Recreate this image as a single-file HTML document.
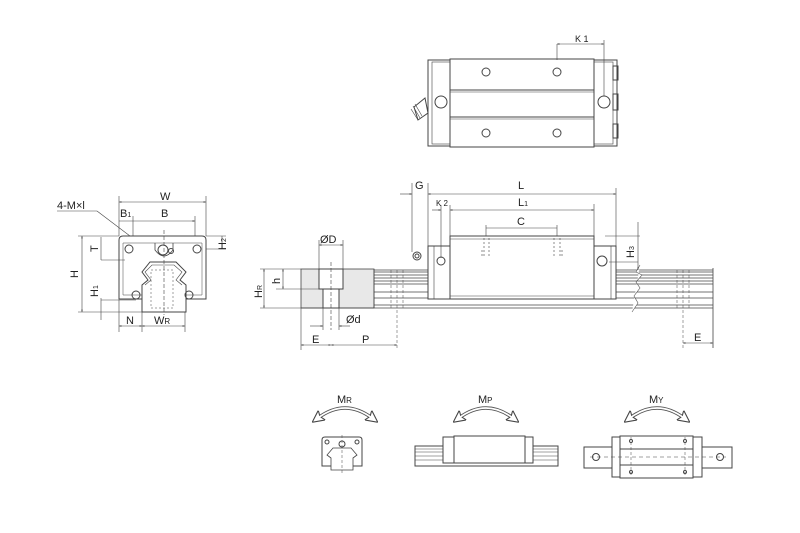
<!DOCTYPE html>
<html><head><meta charset="utf-8"><style>
html,body{margin:0;padding:0;background:#fff;}
svg{display:block;}
text{font-family:"Liberation Sans",sans-serif;fill:#222;}
</style></head><body>
<svg width="800" height="533" viewBox="0 0 800 533" xmlns="http://www.w3.org/2000/svg">
<defs>
<marker id="a" viewBox="0 0 10 10" refX="10" refY="5" markerWidth="6" markerHeight="4" orient="auto-start-reverse"><path d="M0,2 L10,5 L0,8 z" fill="#333"/></marker>
<marker id="ab" viewBox="0 0 10 10" refX="4" refY="5" markerUnits="userSpaceOnUse" markerWidth="12" markerHeight="12" orient="auto-start-reverse"><path d="M0,0 L10,5 L0,10 L2,5 z" fill="#fff" stroke="#444" stroke-width="0.9"/></marker>
</defs>
<g stroke="#444" stroke-width="1" fill="none">
<!-- TOP VIEW -->
<rect x="428" y="60" width="189" height="86"/>
<rect x="432" y="62" width="181" height="82" stroke-width="0.6"/>
<rect x="450" y="59" width="144" height="88" fill="#fff"/>
<line x1="450" y1="90" x2="594" y2="90"/><line x1="450" y1="92" x2="594" y2="92" stroke-width="0.5"/>
<line x1="450" y1="117" x2="594" y2="117"/><line x1="450" y1="119" x2="594" y2="119" stroke-width="0.5"/>
<circle cx="486" cy="72" r="4"/><circle cx="557" cy="72" r="4"/>
<circle cx="486" cy="133" r="4"/><circle cx="557" cy="133" r="4"/>
<circle cx="441" cy="102" r="6"/><circle cx="604" cy="102" r="6"/>
<rect x="613" y="66" width="5" height="14"/><rect x="613" y="94" width="5" height="16"/><rect x="613" y="124" width="5" height="14"/>
<path d="M425,98 L414,107 L418,120 L428,113 Z" fill="#fff"/>
<path d="M413,106 L420,118 M411,109 L418,120 M415,104 L422,116" stroke-width="0.6"/>
<line x1="557" y1="44" x2="557" y2="60" stroke-width="0.6"/>
<line x1="604" y1="40" x2="604" y2="96" stroke-width="0.6"/>
<line x1="557" y1="44" x2="604" y2="44" stroke-width="0.6" marker-start="url(#a)" marker-end="url(#a)"/>

<!-- SIDE VIEW rail -->
<rect x="301" y="269" width="73" height="39" fill="#e8e8e8" stroke-width="0.8"/>
<rect x="319" y="269" width="24" height="20" fill="#fff"/>
<rect x="323" y="289" width="16" height="19" fill="#fff"/>
<line x1="331" y1="262" x2="331" y2="330" stroke-dasharray="4,2" stroke-width="0.6"/>
<g stroke-width="0.8">
<line x1="374" y1="270" x2="713" y2="270"/><line x1="374" y1="272" x2="713" y2="272"/>
<line x1="374" y1="275" x2="713" y2="275"/><line x1="374" y1="278" x2="713" y2="278"/>
<line x1="374" y1="281" x2="713" y2="281"/><line x1="374" y1="284" x2="713" y2="284"/>
<line x1="374" y1="292" x2="713" y2="292"/><line x1="374" y1="298" x2="713" y2="298"/>
<line x1="301" y1="308" x2="713" y2="308"/><line x1="374" y1="305" x2="713" y2="305"/>
<line x1="713" y1="268" x2="713" y2="348"/>
<line x1="374" y1="269" x2="374" y2="308"/>
</g>
<path d="M640,265 L636,272 L642,275 L636,282 L640,288 L634,296 L638,303 L632,312" stroke-width="0.6" stroke="#555" fill="#fff"/>
<g stroke-dasharray="3,2" stroke-width="0.5">
<line x1="391" y1="270" x2="391" y2="310"/><line x1="397" y1="270" x2="397" y2="350"/><line x1="403" y1="270" x2="403" y2="310"/>
<line x1="677" y1="270" x2="677" y2="310"/><line x1="683" y1="270" x2="683" y2="348"/><line x1="689" y1="270" x2="689" y2="310"/>
</g>
<!-- block -->
<rect x="428" y="246" width="188" height="53" fill="#fff"/>
<line x1="434" y1="246" x2="434" y2="299" stroke-width="0.6"/><line x1="611" y1="246" x2="611" y2="299" stroke-width="0.6"/>
<rect x="450" y="236" width="144" height="63" fill="#fff"/>
<line x1="450" y1="239" x2="594" y2="239" stroke-width="0.5"/>
<line x1="450" y1="296" x2="594" y2="296" stroke-width="0.5"/>
<circle cx="441" cy="261" r="4"/><circle cx="602" cy="261" r="5"/>
<g stroke-dasharray="2,2" stroke-width="0.6"><path d="M484,238 V258 M489,238 V258 M554,238 V258 M560,238 V258 M482,250 V258 M562,250 V258"/></g>
<circle cx="417" cy="256" r="4"/><circle cx="417" cy="256" r="2"/>
<!-- dims side -->
<g stroke-width="0.6">
<line x1="412" y1="183" x2="412" y2="252"/><line x1="428" y1="183" x2="428" y2="246"/>
<line x1="400" y1="194" x2="412" y2="194" marker-end="url(#a)"/><line x1="428" y1="194" x2="616" y2="194" marker-start="url(#a)" marker-end="url(#a)"/>
<line x1="616" y1="188" x2="616" y2="246"/>
<line x1="441" y1="205" x2="441" y2="258"/><line x1="450" y1="205" x2="450" y2="236"/>
<line x1="432" y1="210" x2="441" y2="210" marker-end="url(#a)"/>
<line x1="450" y1="210" x2="594" y2="210" marker-start="url(#a)" marker-end="url(#a)"/>
<line x1="594" y1="204" x2="594" y2="236"/>
<line x1="486" y1="225" x2="486" y2="236"/><line x1="557" y1="225" x2="557" y2="236"/>
<line x1="486" y1="228" x2="557" y2="228"/>
<line x1="638" y1="222" x2="638" y2="270" marker-end="url(#a)"/>
<line x1="605" y1="236" x2="640" y2="236"/><line x1="609" y1="262" x2="638" y2="262"/>
<line x1="683" y1="343" x2="713" y2="343" marker-start="url(#a)" marker-end="url(#a)"/>
<line x1="319" y1="240" x2="319" y2="269"/><line x1="343" y1="240" x2="343" y2="269"/>
<line x1="319" y1="245" x2="343" y2="245" marker-start="url(#a)" marker-end="url(#a)"/>
<line x1="323" y1="308" x2="323" y2="330"/><line x1="339" y1="308" x2="339" y2="330"/>
<line x1="310" y1="326" x2="323" y2="326" marker-end="url(#a)"/><line x1="350" y1="326" x2="339" y2="326" marker-end="url(#a)"/>
<line x1="301" y1="308" x2="301" y2="350"/>
<line x1="301" y1="345" x2="331" y2="345" marker-start="url(#a)" marker-end="url(#a)"/>
<line x1="331" y1="345" x2="397" y2="345" marker-start="url(#a)" marker-end="url(#a)"/>
<line x1="260" y1="269" x2="301" y2="269"/><line x1="260" y1="308" x2="301" y2="308"/>
<line x1="264" y1="269" x2="264" y2="308" marker-start="url(#a)" marker-end="url(#a)"/>
<line x1="276" y1="289" x2="319" y2="289"/>
<line x1="283" y1="269" x2="283" y2="289" marker-start="url(#a)" marker-end="url(#a)"/>
</g>

<!-- FRONT VIEW -->
<path d="M119,240 Q119,236 123,236 L202,236 Q206,236 206,240 L206,299 L119,299 Z" fill="#fff"/>
<path d="M123,243 L202,243 L202,295 L123,295 Z" stroke-width="0.5"/>
<path d="M142,312 L142,285 L148,280 L142,272 L150,262 L176,262 L186,272 L180,280 L186,285 L186,312 Z" fill="#fff"/>
<path d="M145,285 L151,280 L145,272 L152,265 L174,265 L182,272 L176,280 L182,285" stroke-width="0.6"/>
<g stroke-dasharray="2,2" stroke-width="0.5"><rect x="151" y="270" width="22" height="38"/></g>
<line x1="164" y1="230" x2="164" y2="315" stroke-dasharray="4,2" stroke-width="0.6"/>
<circle cx="129" cy="249" r="4"/><circle cx="197" cy="249" r="4"/>
<circle cx="136" cy="295" r="4"/><circle cx="189" cy="295" r="4"/>
<path d="M155,243 L155,250 Q164,262 173,250 L173,243" stroke-width="0.8"/>
<circle cx="163" cy="250" r="5"/><circle cx="171" cy="251" r="2.5"/>
<g stroke-width="0.6">
<line x1="119" y1="196" x2="119" y2="236"/><line x1="206" y1="196" x2="206" y2="236"/>
<line x1="119" y1="202" x2="206" y2="202" marker-start="url(#a)" marker-end="url(#a)"/>
<line x1="133" y1="216" x2="133" y2="236"/><line x1="195" y1="216" x2="195" y2="236"/>
<line x1="119" y1="221" x2="195" y2="221" marker-end="url(#a)"/>
<line x1="57" y1="211" x2="97" y2="211"/><line x1="97" y1="211" x2="130" y2="236"/>
<line x1="78" y1="236" x2="119" y2="236"/><line x1="78" y1="312" x2="142" y2="312"/>
<line x1="82" y1="236" x2="82" y2="312" marker-start="url(#a)" marker-end="url(#a)"/>
<line x1="101" y1="237" x2="101" y2="260"/><line x1="101" y1="260" x2="125" y2="260"/>
<line x1="101" y1="300" x2="136" y2="300"/><line x1="101" y1="298" x2="101" y2="320"/>
<line x1="206" y1="249" x2="226" y2="249"/><line x1="206" y1="236" x2="226" y2="236"/>
<line x1="222" y1="236" x2="222" y2="249"/>
<line x1="119" y1="300" x2="119" y2="332"/><line x1="142" y1="312" x2="142" y2="332"/><line x1="185" y1="312" x2="185" y2="332"/>
<line x1="119" y1="326" x2="142" y2="326" marker-start="url(#a)" marker-end="url(#a)"/>
<line x1="142" y1="326" x2="185" y2="326" marker-start="url(#a)" marker-end="url(#a)"/>
</g>

<!-- MOMENT DIAGRAMS -->
<g>
<path d="M318,418 Q345,398 372,418" stroke-width="3.5" stroke="#555" marker-start="url(#ab)" marker-end="url(#ab)"/>
<path d="M318,418 Q345,398 372,418" stroke-width="1.6" stroke="#fff"/>
<path d="M459,418 Q486,398 513,418" stroke-width="3.5" stroke="#555" marker-start="url(#ab)" marker-end="url(#ab)"/>
<path d="M459,418 Q486,398 513,418" stroke-width="1.6" stroke="#fff"/>
<path d="M630,418 Q657,398 684,418" stroke-width="3.5" stroke="#555" marker-start="url(#ab)" marker-end="url(#ab)"/>
<path d="M630,418 Q657,398 684,418" stroke-width="1.6" stroke="#fff"/>
</g>
<!-- MR small block -->
<path d="M322,440 Q322,437 325,437 L359,437 Q362,437 362,440 L362,466 L322,466 Z" fill="#fff"/>
<path d="M331,470 L331,458 L327,455 L333,448 L351,448 L357,455 L353,458 L353,470 Z" fill="#fff" stroke-width="0.8"/>
<line x1="342" y1="435" x2="342" y2="474" stroke-dasharray="3,2" stroke-width="0.5"/>
<circle cx="327" cy="442" r="2"/><circle cx="357" cy="442" r="2"/><circle cx="342" cy="444" r="3"/>
<!-- MP -->
<rect x="415" y="446" width="143" height="20"/>
<g stroke-width="0.6"><line x1="415" y1="449" x2="558" y2="449"/><line x1="415" y1="452" x2="558" y2="452"/><line x1="415" y1="456" x2="558" y2="456"/><line x1="415" y1="460" x2="558" y2="460"/></g>
<rect x="443" y="437" width="90" height="26" fill="#fff"/>
<rect x="454" y="436" width="71" height="27" fill="#fff"/>
<!-- MY -->
<rect x="584" y="447" width="148" height="21"/>
<rect x="612" y="437" width="90" height="40" fill="#fff"/>
<rect x="620" y="436" width="73" height="42" fill="#fff"/>
<line x1="620" y1="449" x2="693" y2="449"/><line x1="620" y1="465" x2="693" y2="465"/>
<line x1="590" y1="457" x2="726" y2="457" stroke-dasharray="4,3" stroke-width="0.6"/>
<line x1="631" y1="437" x2="631" y2="477" stroke-dasharray="3,2" stroke-width="0.5"/>
<line x1="685" y1="437" x2="685" y2="477" stroke-dasharray="3,2" stroke-width="0.5"/>
<circle cx="596" cy="457" r="3.5"/><circle cx="720" cy="457" r="3.5"/>
<circle cx="631" cy="441" r="1.5"/><circle cx="685" cy="441" r="1.5"/><circle cx="631" cy="472" r="1.5"/><circle cx="685" cy="472" r="1.5"/>
</g>
<g font-size="11">
<text x="575" y="42" font-size="9">K 1</text>
<text x="415" y="189">G</text>
<text x="518" y="189">L</text>
<text x="436" y="206" font-size="8">K 2</text>
<text x="518" y="206">L<tspan font-size="7">1</tspan></text>
<text x="517" y="225">C</text>
<text x="634" y="258" transform="rotate(-90 634 258)">H<tspan font-size="7">3</tspan></text>
<text x="694" y="341">E</text>
<text x="320" y="243">ØD</text>
<text x="346" y="323">Ød</text>
<text x="312" y="343">E</text>
<text x="362" y="343">P</text>
<text x="262" y="298" transform="rotate(-90 262 298)">H<tspan font-size="7">R</tspan></text>
<text x="280" y="284" transform="rotate(-90 280 284)">h</text>
<text x="160" y="200">W</text>
<text x="120" y="217">B<tspan font-size="7">1</tspan></text>
<text x="161" y="217">B</text>
<text x="57" y="209">4-M×l</text>
<text x="78" y="278" transform="rotate(-90 78 278)">H</text>
<text x="98" y="252" transform="rotate(-90 98 252)">T</text>
<text x="98" y="297" transform="rotate(-90 98 297)">H<tspan font-size="7">1</tspan></text>
<text x="226" y="250" transform="rotate(-90 226 250)">H<tspan font-size="7">2</tspan></text>
<text x="126" y="324">N</text>
<text x="154" y="324">W<tspan font-size="8">R</tspan></text>
<text x="337" y="403">M<tspan font-size="8">R</tspan></text>
<text x="478" y="403">M<tspan font-size="8">P</tspan></text>
<text x="649" y="403">M<tspan font-size="8">Y</tspan></text>
</g>
</svg>
</body></html>
